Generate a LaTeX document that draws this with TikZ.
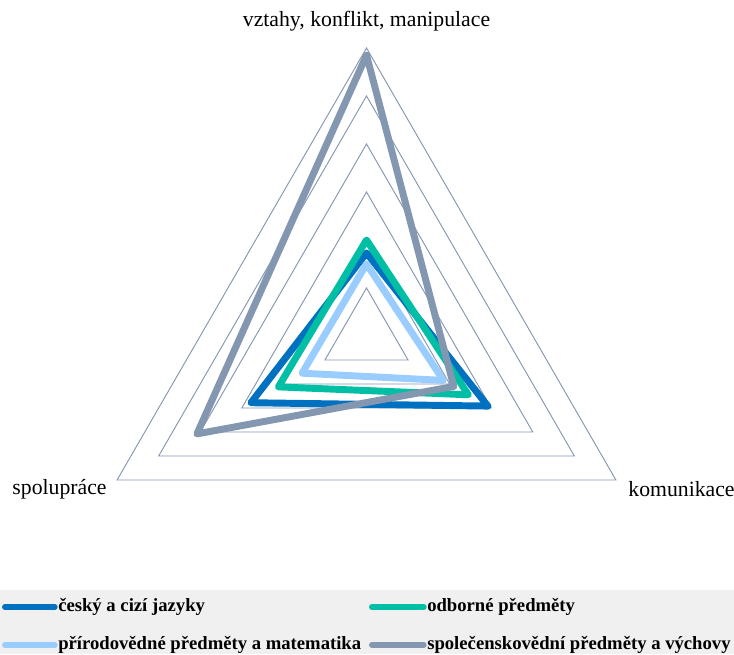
\documentclass[tikz,border=0pt]{standalone}
\usepackage{fontspec}
\setmainfont{Liberation Serif}
\usetikzlibrary{calc}
\definecolor{jazyky}{HTML}{0070C0}
\definecolor{odborne}{HTML}{00BFA5}
\definecolor{prirodo}{HTML}{99CCFF}
\definecolor{spolec}{HTML}{8497B0}
\definecolor{mrizkabarva}{HTML}{8497B0}
\definecolor{legpozadi}{HTML}{F0F0F0}
\def\radar[#1](#2:#3:#4){\draw[#1] (90:#2) -- (-30:#3) -- (210:#4) -- cycle;}
\tikzset{
  serie/.style={line width=5.2pt, line join=round, line cap=round},
  mrizka/.style={draw=mrizkabarva, line width=0.7pt},
  osa/.style={font=\fontsize{16.3}{19}\selectfont, inner sep=0pt},
  legenda/.style={font=\fontsize{14}{17}\selectfont\bfseries, inner sep=0pt, anchor=west},
}

\begin{document}
\begin{tikzpicture}[x=0.75pt, y=0.75pt]
		%%%%% START %%%%%
		\useasboundingbox (0,0) rectangle (734,654);
		\coordinate (stred) at (366.5,318);
		
		\begin{scope}[shift={(stred)}, x=36pt, y=36pt]
			\foreach \r in {1,...,6}
				\draw[mrizka] (90:\r) -- (-30:\r) -- (210:\r) -- cycle;
			
			\radar[serie, jazyky](1.73:2.92:2.78)
			\radar[serie, odborne](2.0:2.45:2.12)
			\radar[serie, prirodo](1.5:1.85:1.55)
			\radar[serie, spolec](5.85:2.1:4.08)
		\end{scope}
		
		\node[osa] (vztahy) at (366.5,633) {vztahy, konflikt, manipulace};
		\node[osa] (spoluprace) at (59.5,165) {spolupráce};
		\node[osa] (komunikace) at (681.5,165) {komunikace};
		
		%%%%% LEGENDA %%%%%
		\fill[legpozadi] (0,0) rectangle (734,64);
		
		\coordinate (kJazyky) at (5,47);
		\node[legenda] (lJazyky) at (58,47) {český a cizí jazyky};
		\draw[serie, line width=4.5pt, jazyky] (kJazyky) -- ([xshift=-2.5pt]lJazyky.west);
		
		\coordinate (kOdborne) at (372,47);
		\node[legenda] (lOdborne) at (427,47) {odborné předměty};
		\draw[serie, line width=4.5pt, odborne] (kOdborne) -- ([xshift=-2.5pt]lOdborne.west);
		
		\coordinate (kPrirodo) at (5,9);
		\node[legenda] (lPrirodo) at (58,9) {přírodovědné předměty a matematika};
		\draw[serie, line width=4.5pt, prirodo] (kPrirodo) -- ([xshift=-2.5pt]lPrirodo.west);
		
		\coordinate (kSpolec) at (372,9);
		\node[legenda] (lSpolec) at (427,9) {společenskovědní předměty a výchovy};
		\draw[serie, line width=4.5pt, spolec] (kSpolec) -- ([xshift=-2.5pt]lSpolec.west);
		%%%%% END %%%%%
	\end{tikzpicture}
\end{document}
